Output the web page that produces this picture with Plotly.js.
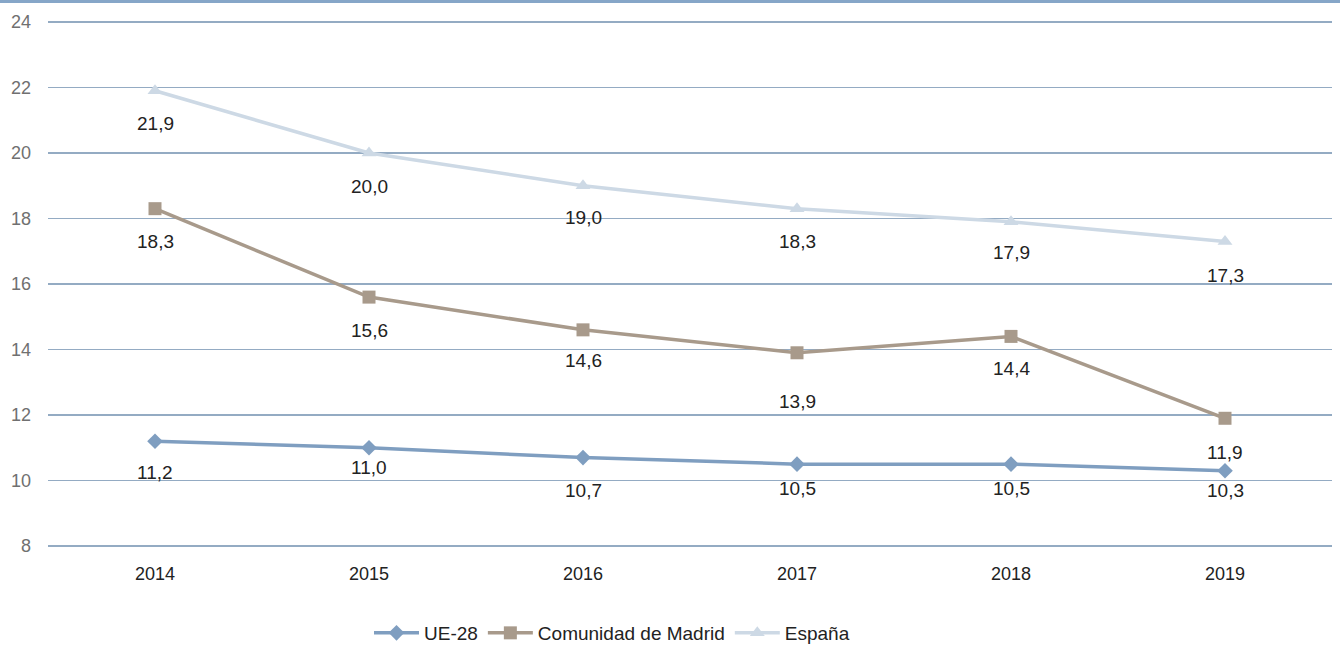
<!DOCTYPE html>
<html>
<head>
<meta charset="utf-8">
<script src="https://cdn.plot.ly/plotly-3.0.1.min.js"></script>
<style>
  html, body { margin: 0; padding: 0; background: #ffffff; }
  #chart { width: 1340px; height: 648px; }
</style>
</head>
<body>
<div id="chart"></div>
<script>
// ---- data ----
var years = ['2014', '2015', '2016', '2017', '2018', '2019'];
var seriesNames = ['UE-28', 'Comunidad de Madrid', 'España'];
var ue28 = [11.2, 11.0, 10.7, 10.5, 10.5, 10.3];
var madrid = [18.3, 15.6, 14.6, 13.9, 14.4, 11.9];
var espana = [21.9, 20.0, 19.0, 18.3, 17.9, 17.3];
var yTicks = [8, 10, 12, 14, 16, 18, 20, 22, 24];

// ---- styling ----
var FONT = '"Liberation Sans", Arial, sans-serif';
var colors = ['#7f9ec0', '#a89a8b', '#cdd9e5'];
var symbols = ['diamond', 'square', 'triangle-up'];
// vertical pixel offset of each value label below its point
var labelOffsets = [
  [31, 20, 33, 24, 24, 20],
  [33, 33, 31, 49, 32, 34],
  [33, 33, 32, 33, 31, 34]
];

var allSeries = [ue28, madrid, espana];

function fmt(v) { return v.toFixed(1).replace('.', ','); }

var traces = allSeries.map(function (vals, i) {
  return {
    type: 'scatter',
    mode: 'lines+markers',
    name: seriesNames[i],
    x: years,
    y: vals,
    line: { color: colors[i], width: 3.5 },
    marker: { color: colors[i], symbol: symbols[i], size: i === 0 ? 12 : 13 },
    hoverinfo: 'skip'
  };
});

var annotations = [];
allSeries.forEach(function (vals, i) {
  vals.forEach(function (v, j) {
    annotations.push({
      x: j, y: v, xref: 'x', yref: 'y',
      text: fmt(v), showarrow: false,
      yanchor: 'middle', xanchor: 'center',
      yshift: -labelOffsets[i][j],
      font: { family: FONT, size: 19, color: '#222222' }
    });
  });
});

var layout = {
  width: 1340, height: 648,
  margin: { l: 48, r: 8, t: 19, b: 99, autoexpand: false },
  paper_bgcolor: '#ffffff', plot_bgcolor: '#ffffff',
  showlegend: true,
  legend: {
    orientation: 'h', x: 0.25, xanchor: 'left',
    yref: 'container', y: 15 / 648, yanchor: 'middle',
    font: { family: FONT, size: 19, color: '#222222' },
    itemwidth: 45, tracegroupgap: 0
  },
  xaxis: {
    type: 'category', range: [-0.5, 5.5],
    showgrid: false, zeroline: false, showline: false, ticks: '',
    tickfont: { family: FONT, size: 18, color: '#222222' },
    ticklabelstandoff: 12, fixedrange: true
  },
  yaxis: {
    range: [7.9084, 24.0916], tickvals: yTicks,
    showgrid: true, gridcolor: '#94abc3', gridwidth: 1.5,
    zeroline: false, showline: false, ticks: '',
    tickfont: { family: FONT, size: 18, color: '#707070' },
    ticklabelstandoff: 16, fixedrange: true
  },
  shapes: [{
    type: 'line', xref: 'paper', yref: 'paper',
    x0: -48 / 1284, x1: 1292 / 1284,
    y0: 1 + 17.5 / 530, y1: 1 + 17.5 / 530,
    line: { color: '#86a6c8', width: 3 }
  }],
  annotations: annotations,
  hovermode: false
};

Plotly.newPlot('chart', traces, layout, { displayModeBar: false, staticPlot: true });
</script>
</body>
</html>
